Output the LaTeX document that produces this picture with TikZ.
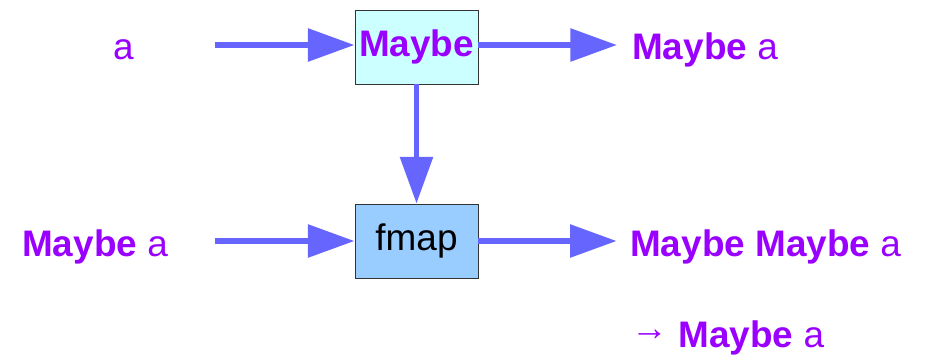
\documentclass[tikz,border=0pt]{standalone}
\usepackage{fontspec}
\setmainfont{Liberation Sans}
\usetikzlibrary{arrows.meta}
\definecolor{maybepurple}{RGB}{153,0,255}
\definecolor{flowblue}{RGB}{102,102,255}
\definecolor{boxcyan}{RGB}{204,255,255}
\definecolor{boxblue}{RGB}{153,204,255}

\begin{document}
\begin{tikzpicture}
            [
            x=0.03cm,y=-0.03cm,
            word/.style={text=maybepurple,inner sep=0pt,anchor=base west,
                font=\fontsize{31.5}{38}\selectfont},
            func/.style={draw=black!80,line width=0.8pt,inner sep=0pt,
                minimum width=3.69cm,minimum height=2.22cm,
                font=\fontsize{31.5}{38}\selectfont},
            flow/.style={flowblue,line width=5pt,
                -{Triangle[length=1.4cm,width=0.96cm]}},
            ]
            \useasboundingbox (0,0) rectangle (925,354);
            % Boxes
            \node[func,fill=boxcyan,text=maybepurple] (maybe) at (416.5,47) {\bfseries Maybe};
            \node[func,fill=boxblue] (fmap) at (416.5,241) {fmap};

            % Labels
            \node[word] (a) at (113,59) {a};
            \node[word] (mba) at (632,59) {\bfseries Maybe \mdseries a};
            \node[word] (ma) at (22,256) {\bfseries Maybe \mdseries a};
            \node[word] (mmba) at (630,256) {\bfseries Maybe Maybe \mdseries a};
            \node[word] (join) at (631,347) {\raisebox{0.17em}{→} \bfseries Maybe \mdseries a};

            \coordinate (in1) at (215,45);
            \coordinate (in2) at (215,241);

            % Arrows
            \draw[flow] (in1) -- (in1 -| maybe.west);
            \draw[flow,shorten >=0.45cm] (in1 -| maybe.east) -- (in1 -| mba.west);
            \draw[flow] (maybe) -- (fmap);
            \draw[flow] (in2) -- (fmap);
            \draw[flow,shorten >=0.4cm] (fmap) -- (fmap -| mmba.west);
        \end{tikzpicture}
\end{document}
